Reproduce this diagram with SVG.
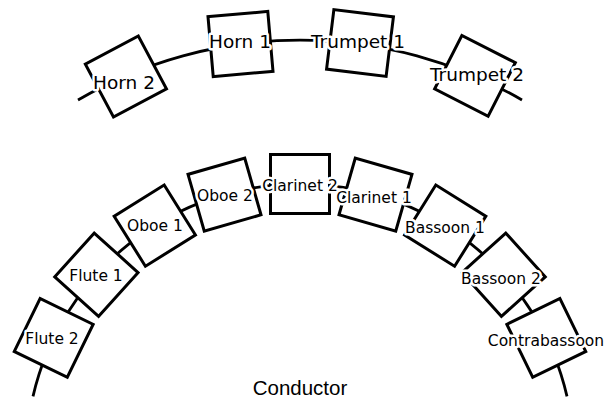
<svg xmlns="http://www.w3.org/2000/svg" width="605" height="415" viewBox="0 0 605 415">
<style>
.box{fill:#fff;stroke:#000;stroke-width:3}
.con{fill:none;stroke:#000;stroke-width:2.8}
.lbl{font-family:"DejaVu Sans",sans-serif;text-anchor:middle;fill:#000;stroke:#fff;stroke-width:5;stroke-linejoin:round;paint-order:stroke}
.top{font-size:18.5px}
.bot{font-size:15.5px}
.cond{font-family:"Liberation Sans",Arial,sans-serif;font-size:20.5px;text-anchor:middle;fill:#000}
</style>
<rect width="605" height="415" fill="#fff"/>
<g id="connectors">
<path class="con" d="M78,100 A441,441 0 0 1 522,100"/>
<path class="con" d="M33,396.4 A274,274 0 0 1 567,396.4"/>
</g>
<g id="horn2"><rect class="box" x="-30" y="-30" width="60" height="60" transform="translate(125.9,76.5) rotate(-28)"/><text class="lbl top" x="124" y="89">Horn 2</text></g>
<g id="horn1"><rect class="box" x="-30" y="-30" width="60" height="60" transform="translate(240.5,44) rotate(-5)"/><text class="lbl top" x="240" y="48">Horn 1</text></g>
<g id="trumpet1"><rect class="box" x="-30" y="-30" width="60" height="60" transform="translate(360,43) rotate(7)"/><text class="lbl top" x="358" y="48">Trumpet 1</text></g>
<g id="trumpet2"><rect class="box" x="-30" y="-30" width="60" height="60" transform="translate(475,75.8) rotate(27)"/><text class="lbl top" x="477" y="81">Trumpet 2</text></g>
<g id="flute2"><rect class="box" x="-29.5" y="-29.5" width="59" height="59" transform="translate(53.7,337.9) rotate(-64)"/><text class="lbl bot" x="52" y="343.5">Flute 2</text></g>
<g id="flute1"><rect class="box" x="-29.5" y="-29.5" width="59" height="59" transform="translate(96.4,274.7) rotate(-48)"/><text class="lbl bot" x="96" y="281">Flute 1</text></g>
<g id="oboe1"><rect class="box" x="-29.5" y="-29.5" width="59" height="59" transform="translate(154.8,225.6) rotate(-32)"/><text class="lbl bot" x="155" y="231">Oboe 1</text></g>
<g id="oboe2"><rect class="box" x="-29.5" y="-29.5" width="59" height="59" transform="translate(224.5,194.6) rotate(-16)"/><text class="lbl bot" x="225" y="200.5">Oboe 2</text></g>
<g id="clarinet2"><rect class="box" x="-29.5" y="-29.5" width="59" height="59" transform="translate(300,184)"/><text class="lbl bot" x="300" y="190.5">Clarinet 2</text></g>
<g id="clarinet1"><rect class="box" x="-29.5" y="-29.5" width="59" height="59" transform="translate(375.5,194.6) rotate(16)"/><text class="lbl bot" x="374" y="202.5">Clarinet 1</text></g>
<g id="bassoon1"><rect class="box" x="-29.5" y="-29.5" width="59" height="59" transform="translate(445.2,225.6) rotate(32)"/><text class="lbl bot" x="445" y="232.5">Bassoon 1</text></g>
<g id="bassoon2"><rect class="box" x="-29.5" y="-29.5" width="59" height="59" transform="translate(503.6,274.7) rotate(48)"/><text class="lbl bot" x="501" y="283.5">Bassoon 2</text></g>
<g id="contrabassoon"><rect class="box" x="-29.5" y="-29.5" width="59" height="59" transform="translate(546.3,337.9) rotate(64)"/><text class="lbl bot" x="546" y="345.5">Contrabassoon</text></g>
<g id="conductor"><text class="cond" x="300" y="395">Conductor</text></g>
</svg>
